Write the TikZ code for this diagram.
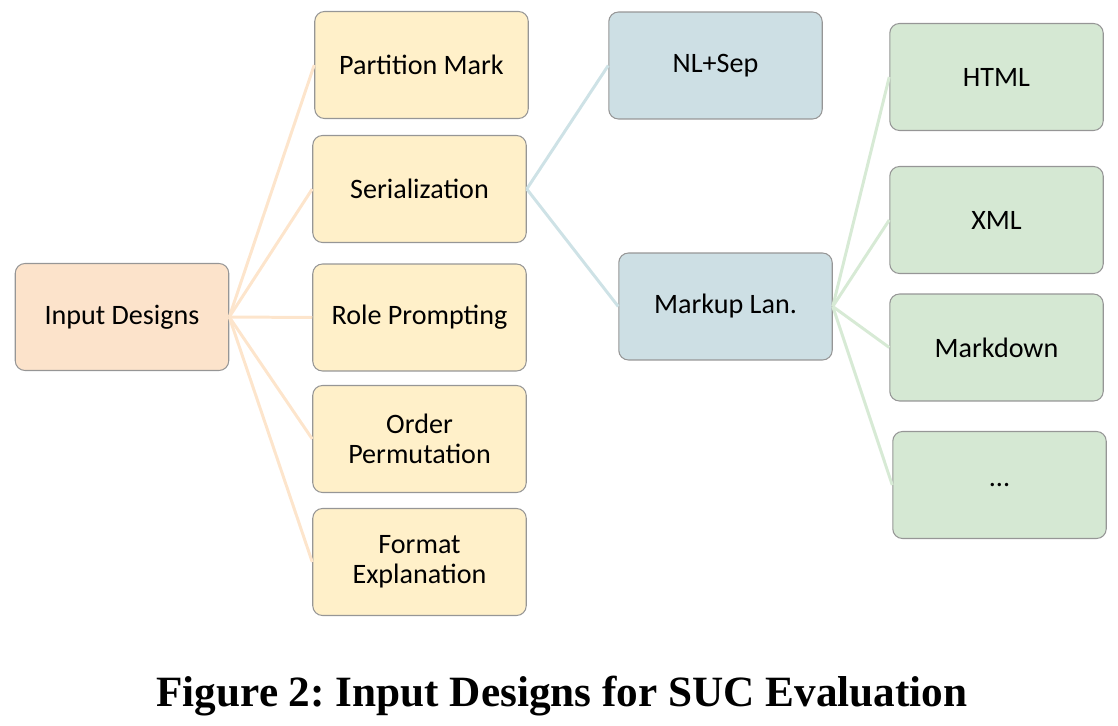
\documentclass[tikz,border=0pt]{standalone}
\usepackage{fontspec}
\setmainfont{Carlito}
\newfontfamily\capfont{Liberation Serif}
\definecolor{peach}{RGB}{252,227,203}
\definecolor{gold}{RGB}{255,240,201}
\definecolor{steel}{RGB}{205,223,228}
\definecolor{mint}{RGB}{213,232,211}
\definecolor{peachln}{RGB}{253,229,204}
\definecolor{steelln}{RGB}{206,226,230}
\definecolor{mintln}{RGB}{215,234,213}
\definecolor{edge}{RGB}{150,150,150}

\begin{document}
\begin{tikzpicture}[x=0.02cm, y=-0.02cm, font=\fontsize{16}{17}\selectfont,
  box/.style={draw=edge, line width=0.6pt, rounded corners=5.5pt, minimum width=4.27cm, minimum height=2.14cm, inner sep=0pt, align=center},
  root/.style={box, fill=peach},
  ybox/.style={box, fill=gold},
  bbox/.style={box, fill=steel},
  gbox/.style={box, fill=mint},
  oline/.style={draw=peachln, line width=1.7pt},
  bline/.style={draw=steelln, line width=1.7pt},
  gline/.style={draw=mintln, line width=1.7pt}]

\useasboundingbox (0,0) rectangle (1118,726);

% =================================================================================
% LEVEL 1: the root and its five designs
% =================================================================================
\node[root] (ind) at (122,317)   {Input Designs};
\node[ybox] (pm)  at (421.5,65)    {Partition Mark};
\node[ybox] (ser) at (419.5,189)   {Serialization};
\node[ybox] (rp)  at (419.5,317.5) {Role Prompting};
\node[ybox] (op)  at (419.5,439) {Order\\Permutation};
\node[ybox] (fe)  at (419.5,562)   {Format\\Explanation};

\draw[oline] (ind.east) -- (pm.west);
\draw[oline] (ind.east) -- (ser.west);
\draw[oline] (ind.east) -- (rp.west);
\draw[oline] (ind.east) -- (op.west);
\draw[oline] (ind.east) -- (fe.west);

% =================================================================================
% LEVEL 2: serialization
% =================================================================================
\node[bbox] (nl) at (715.5,65.5)  {NL+Sep};
\node[bbox] (ml) at (725.5,306.5) {Markup Lan.};

\draw[bline] (ser.east) -- (nl.west);
\draw[bline] (ser.east) -- (ml.west);

% =================================================================================
% LEVEL 3: markup languages
% =================================================================================
\node[gbox] (html) at (996.5,77)  {HTML};
\node[gbox] (xml)  at (996.5,220) {XML};
\node[gbox] (md)   at (996.5,347.5) {Markdown};
\node[gbox] (etc)  at (999.5,485) {...};

\draw[gline] (ml.east) -- (html.west);
\draw[gline] (ml.east) -- (xml.west);
\draw[gline] (ml.east) -- (md.west);
\draw[gline] (ml.east) -- (etc.west);

% =================================================================================
\node[font=\capfont\bfseries\fontsize{24.6}{28}\selectfont] (cap) at (562,696)
  {\frenchspacing Figure 2: Input Designs for SUC Evaluation};

\end{tikzpicture}
\end{document}
